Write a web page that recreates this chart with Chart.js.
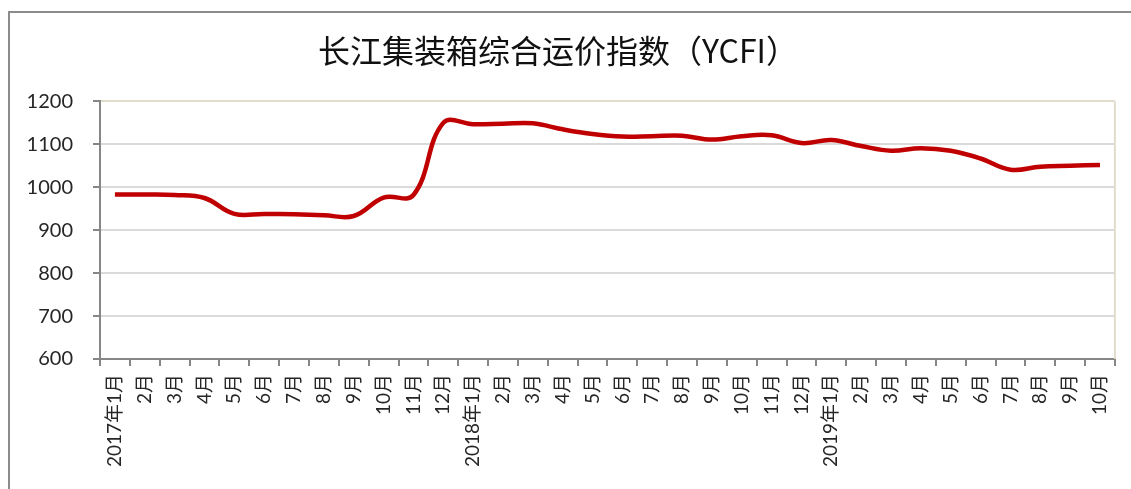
<!DOCTYPE html>
<html>
<head>
<meta charset="utf-8">
<script src="https://cdn.jsdelivr.net/npm/chart.js@4"></script>
<style>
  html, body { margin: 0; padding: 0; background: #fff; overflow: hidden; }
  #frame { position: absolute; left: 8px; top: 11px; width: 1200px; height: 600px;
           border-left: 2px solid #8c8c8c; border-top: 2px solid #8c8c8c; }
  #chart { position: absolute; left: 0; top: 0; }
</style>
</head>
<body>
<div id="frame"></div>
<canvas id="chart" width="1131" height="489"></canvas>
<script>
// categories (month labels)
const months = [
  "2017年1月", "2月", "3月", "4月", "5月", "6月", "7月", "8月", "9月", "10月", "11月", "12月",
  "2018年1月", "2月", "3月", "4月", "5月", "6月", "7月", "8月", "9月", "10月", "11月", "12月",
  "2019年1月", "2月", "3月", "4月", "5月", "6月", "7月", "8月", "9月", "10月"
];

// YCFI index values
const ycfi2017 = [983, 983, 982, 975, 938, 938, 937, 935, 933, 976, 982, 1150];
const ycfi2018 = [1147, 1148, 1149, 1135, 1124, 1118, 1119, 1120, 1111, 1119, 1121, 1103];
const ycfi2019 = [1110, 1096, 1085, 1091, 1085, 1067, 1041, 1048, 1050, 1052];

// y axis ticks
const yMin = 600;
const yMax = 1200;
const yStep = 100;

const ycfi = ycfi2017.concat(ycfi2018, ycfi2019);

// right edge of the plot area
const plotBorder = {
  id: "plotBorder",
  beforeDatasetsDraw(chart) {
    const { ctx, chartArea } = chart;
    ctx.save();
    ctx.strokeStyle = "#e2ddcb";
    ctx.lineWidth = 2;
    ctx.beginPath();
    ctx.moveTo(chartArea.right, chartArea.top);
    ctx.lineTo(chartArea.right, chartArea.bottom);
    ctx.stroke();
    ctx.restore();
  },
};

new Chart(document.getElementById("chart"), {
  type: "line",
  data: {
    labels: months,
    datasets: [
      {
        label: "YCFI",
        data: ycfi,
        borderColor: "#c00000",
        borderWidth: 4.5,
        pointRadius: 0,
        tension: 0.4,
        fill: false,
      },
    ],
  },
  options: {
    responsive: false,
    animation: false,
    devicePixelRatio: 1,
    layout: { padding: { left: 0, right: 15, top: 0, bottom: 0 } },
    plugins: {
      legend: { display: false },
      tooltip: { enabled: false },
      title: {
        display: true,
        text: "长江集装箱综合运价指数（YCFI）",
        color: "#111",
        font: { family: "'Noto Sans CJK SC'", size: 32, weight: "normal", lineHeight: 1.2 },
        padding: { top: 32, bottom: 31 },
      },
    },
    scales: {
      x: {
        offset: true,
        afterFit: (scale) => { scale.height = 130; },
        border: { display: true, color: "#868686", width: 2 },
        grid: {
          offset: true,
          drawOnChartArea: false,
          drawTicks: true,
          tickLength: 7,
          tickColor: "#868686",
          lineWidth: 2,
        },
        ticks: {
          autoSkip: false,
          maxRotation: 90,
          minRotation: 90,
          padding: 8,
          color: "#262626",
          font: { family: "Lato, 'Noto Sans CJK SC'", size: 19 },
        },
      },
      y: {
        min: yMin,
        max: yMax,
        afterFit: (scale) => { scale.width = 100; },
        border: { display: true, color: "#868686", width: 2 },
        grid: {
          color: (ctx) => (ctx.tick && ctx.tick.value === yMax ? "#e2ddcb" : "#dadada"),
          lineWidth: 2,
          tickLength: 7,
          tickColor: "#868686",
        },
        ticks: {
          stepSize: yStep,
          padding: 20,
          color: "#262626",
          font: { family: "Lato", size: 20 },
          callback: (value) => String(value),
        },
      },
    },
  },
  plugins: [plotBorder],
});
</script>
</body>
</html>
